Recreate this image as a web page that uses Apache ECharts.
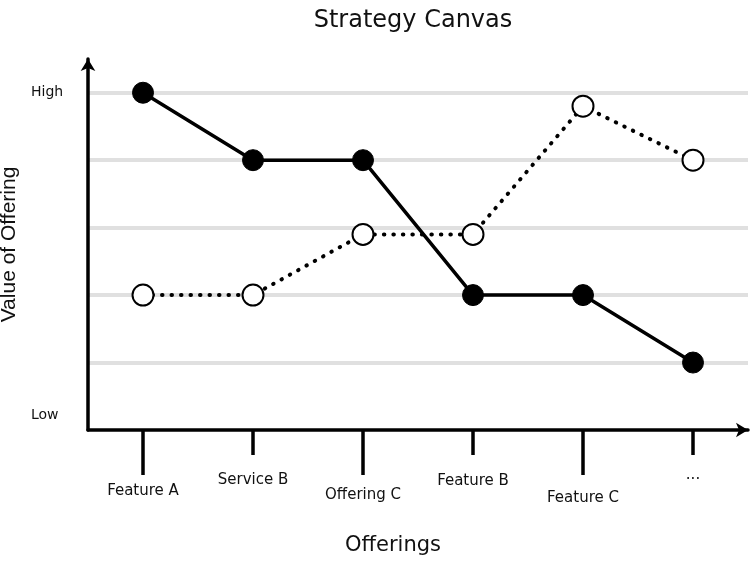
<!DOCTYPE html>
<html>
<head>
<meta charset="utf-8">
<script src="https://cdn.jsdelivr.net/npm/echarts@6/dist/echarts.min.js"></script>
<style>html,body{margin:0;padding:0;background:#fff}#c{width:750px;height:561px}</style>
</head>
<body>
<div id="c"></div>
<script>
// ---- data ----
const categories = ['Feature A', 'Service B', 'Offering C', 'Feature B', 'Feature C', '...'];
const seriesA = [5, 4, 4, 2, 2, 1];          // solid line, filled markers
const seriesB = [2, 2, 2.9, 2.9, 4.8, 4];    // dotted line, hollow markers
const yLevelValues = [0, 5];
const yLevelNames = ['Low', 'High'];

// ---- styling ----
const FONT = 'DejaVu Sans';
const labelDrop = [35, 13, 43, 15, 49, 4];
const rich = {};
labelDrop.forEach((p, i) => {
  rich['l' + i] = { fontFamily: FONT, fontSize: 15, color: '#111', lineHeight: 17, padding: [p, 0, 0, 0] };
});

const chart = echarts.init(document.getElementById('c'));
chart.setOption({
  animation: false,
  backgroundColor: '#fff',
  title: {
    text: 'Strategy Canvas', left: 408, top: 4, textAlign: 'center',
    textStyle: { fontFamily: FONT, fontSize: 24, fontWeight: 'normal', color: '#111' }
  },
  grid: { left: 88, right: 2, top: 59, bottom: 131, containLabel: false, outerBoundsMode: 'none' },
  xAxis: [{
    type: 'category', data: categories, boundaryGap: true,
    name: 'Offerings', nameLocation: 'middle', nameGap: 105,
    nameTextStyle: { fontFamily: FONT, fontSize: 21, color: '#111', padding: [0, 50, 0, 0] },
    axisLine: { show: true, lineStyle: { color: '#000', width: 3.5 }, symbol: ['none', 'arrow'], symbolSize: [11, 12] },
    axisTick: { show: true, alignWithLabel: true, length: 45, lineStyle: { color: '#000', width: 3.5 },
      interval: (i) => i % 2 === 0 },
    axisLabel: {
      margin: 35, interval: 0,
      formatter: (v, i) => '{l' + i + '|' + v + '}',
      rich: rich
    },
    splitLine: { show: false }
  }, {
    type: 'category', data: categories, boundaryGap: true, position: 'bottom',
    axisLine: { show: false },
    axisTick: { show: true, alignWithLabel: true, length: 25, lineStyle: { color: '#000', width: 3.5 },
      interval: (i) => i % 2 === 1 },
    axisLabel: { show: false },
    splitLine: { show: false }
  }],
  yAxis: {
    type: 'value', min: 0, max: 5.5, interval: 1,
    name: 'Value of Offering', nameLocation: 'middle', nameGap: 60,
    nameTextStyle: { fontFamily: 'Liberation Sans', fontSize: 21, color: '#111' },
    axisLine: { show: true, lineStyle: { color: '#000', width: 3.5 }, symbol: ['none', 'arrow'], symbolSize: [11, 12] },
    axisTick: { show: false },
    axisLabel: {
      align: 'left', margin: 57,
      formatter: (v) => {
        const k = yLevelValues.indexOf(v);
        if (k < 0) return '';
        return v === 0 ? '{low|' + yLevelNames[k] + '}' : '{hi|' + yLevelNames[k] + '}';
      },
      rich: {
        low: { fontFamily: FONT, fontSize: 14, color: '#111', padding: [0, 0, 30, 0] },
        hi: { fontFamily: FONT, fontSize: 14, color: '#111', padding: [0, 0, 0, 0] }
      }
    },
    splitLine: { show: true, lineStyle: { width: 4, color: ['transparent', '#e0e0e0', '#e0e0e0', '#e0e0e0', '#e0e0e0', '#e0e0e0', 'transparent'] } }
  },
  series: [{
    type: 'line', data: seriesA, xAxisIndex: 0,
    symbol: 'circle', symbolSize: 21,
    lineStyle: { color: '#000', width: 3.5 },
    itemStyle: { color: '#000', borderColor: '#000', borderWidth: 1 },
    z: 3
  }, {
    type: 'line', data: seriesB, xAxisIndex: 0,
    symbol: 'circle', symbolSize: 21,
    lineStyle: { color: '#000', width: 4, type: [0.5, 9], cap: 'round' },
    itemStyle: { color: '#fff', borderColor: '#000', borderWidth: 2 },
    z: 2
  }]
});
</script>
</body>
</html>
